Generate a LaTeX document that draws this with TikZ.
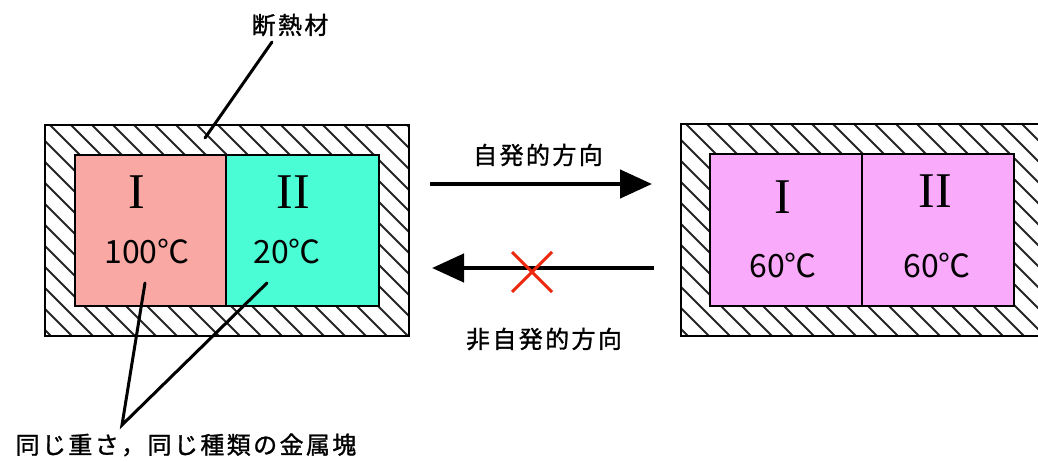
\documentclass[tikz,border=0pt]{standalone}
\usepackage{fontspec}
\setmainfont{Liberation Serif}
\newfontfamily\jp{Noto Sans CJK JP}
\newfontfamily\jpl[LetterSpace=10,FakeBold=1.2]{Noto Sans CJK JP}
\usetikzlibrary{arrows.meta,calc}
\definecolor{cI}{RGB}{249,168,164}
\definecolor{cII}{RGB}{74,253,213}
\definecolor{cR}{RGB}{249,170,250}
\definecolor{xred}{RGB}{238,40,15}
\begin{document}
\begin{tikzpicture}[x=1pt,y=-1pt]
\tikzset{
 cjk/.style={font=\jpl\fontsize{24}{28}\selectfont, inner sep=0pt},
 temp/.style={font=\jp\fontsize{32}{36}\selectfont, inner sep=0pt},
 roman/.style={font=\fontsize{50}{56}\selectfont, inner sep=0pt},
 outerbox/.style={draw=black, line width=2.5pt},
 block/.style={draw=black, line width=2pt, anchor=north west, inner sep=0pt, outer sep=0pt},
 hatch/.style={line width=1.8pt, black!85},
 leader/.style={line width=3pt, line cap=round},
 bigarrow/.style={line width=4.5pt, -{Triangle[length=32pt,width=28pt]}},
 cross/.style={line width=3pt, draw=xred}
}
\clip (0,0) rectangle (1038,462);
\fill[white] (0,0) rectangle (1038,462);

% left insulated box
\begin{scope}
\clip (45,125) rectangle (409,336);
\foreach \i in {-12,...,20} \draw[hatch] (50+\i*21,125) -- ++(230,230);
\end{scope}
\draw[outerbox] (45,125) rectangle (409,336);
\node[block, fill=cI, minimum width=151pt, minimum height=151pt] (LI) at (75,155) {};
\node[block, fill=cII, minimum width=153pt, minimum height=151pt] (LII) at (226,155) {};

% right insulated box
\begin{scope}
\clip (681,124) rectangle (1045,336);
\foreach \i in {-12,...,20} \draw[hatch] (686+\i*21,124) -- ++(230,230);
\end{scope}
\draw[outerbox] (681,124) rectangle (1045,336);
\node[block, fill=cR, minimum width=152pt, minimum height=152pt] (RI) at (710,154) {};
\node[block, fill=cR, minimum width=152pt, minimum height=152pt] (RII) at (862,154) {};

% texts in blocks
\node[roman] (tLI) at (137,192) {I};
\node[temp] (tL100) at (147,252) {100℃};
\node[roman] (tLII) at (293,192) {II};
\node[temp] (tL20) at (287,252) {20℃};
\node[roman] (tRI) at (783,197) {I};
\node[temp] (tR60a) at (783,265) {60℃};
\node[roman] (tRII) at (935,191) {II};
\node[temp] (tR60b) at (937,265) {60℃};

% insulation label
\node[cjk] (insul) at (290,25) {断熱材};
\coordinate (insulStart) at (272,42);
\coordinate (insulEnd) at (205,138);
\draw[leader] (insulStart) -- (insulEnd);

% metal label
\node[cjk] (metal) at (186,445) {同じ重さ，同じ種類の金属塊};
\coordinate (apex) at (122,425);
\coordinate (ptI) at (145,283);
\coordinate (ptII) at (267,283);
\draw[leader] (ptI) -- (apex) -- (ptII);

% arrows
\coordinate (a1s) at (430,184);
\coordinate (a1e) at (652,184);
\draw[bigarrow] (a1s) -- (a1e);
\node[cjk] (spont) at (538,155) {自発的方向};

\coordinate (a2s) at (654,268);
\coordinate (a2e) at (432,268);
\draw[bigarrow] (a2s) -- (a2e);
\coordinate (xc) at (532,272);
\draw[cross] ($(xc)+(-20,-20)$) -- ($(xc)+(20,20)$);
\draw[cross] ($(xc)+(-20,20)$) -- ($(xc)+(20,-20)$);
\node[cjk] (nonspont) at (544,339) {非自発的方向};
\end{tikzpicture}
\end{document}
